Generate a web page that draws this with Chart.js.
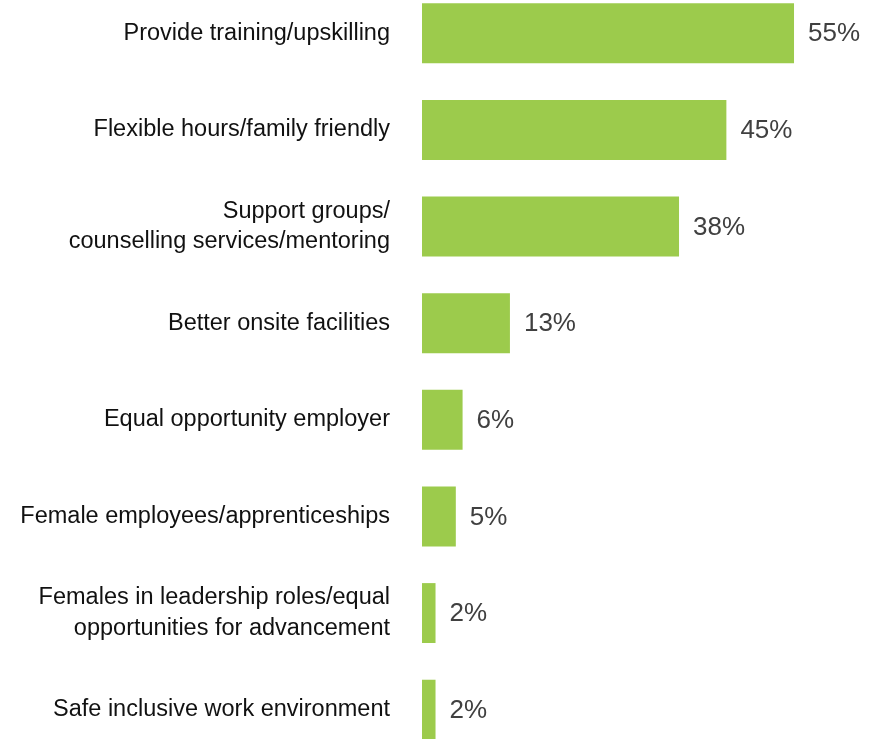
<!DOCTYPE html>
<html>
<head>
<meta charset="utf-8">
<title>Workplace initiatives</title>
<script src="https://cdn.jsdelivr.net/npm/chart.js@4.4.1/dist/chart.umd.min.js"></script>
<style>
  html, body { margin: 0; padding: 0; background: #fff; }
  #wrap { position: relative; width: 881px; height: 739px; overflow: hidden; }
  #barChart { position: absolute; left: 0; top: -15px; }
</style>
</head>
<body>
<div id="wrap">
  <canvas id="barChart" width="881" height="773"></canvas>
</div>
<script>
// ---- data ----
const categories = [
  "Provide training/upskilling",
  "Flexible hours/family friendly",
  ["Support groups/", "counselling services/mentoring"],
  "Better onsite facilities",
  "Equal opportunity employer",
  "Female employees/apprenticeships",
  ["Females in leadership roles/equal", "opportunities for advancement"],
  "Safe inclusive work environment"
];
const shares = [55, 45, 38, 13, 6, 5, 2, 2];

const FONT = "'Liberation Sans', Arial, Helvetica, sans-serif";
const BAR_GREEN = "#9ccb4c";

// value labels to the right of each bar
const valueLabels = {
  id: "valueLabels",
  afterDatasetsDraw(chart) {
    const ctx = chart.ctx;
    const meta = chart.getDatasetMeta(0);
    ctx.save();
    ctx.font = "26px " + FONT;
    ctx.fillStyle = "#404040";
    ctx.textAlign = "left";
    ctx.textBaseline = "middle";
    meta.data.forEach((bar, i) => {
      ctx.fillText(shares[i] + "%", bar.x + 14, bar.y + 1);
    });
    ctx.restore();
  }
};

new Chart(document.getElementById("barChart").getContext("2d"), {
  type: "bar",
  data: {
    labels: categories,
    datasets: [{
      data: shares,
      backgroundColor: BAR_GREEN,
      borderWidth: 0,
      barPercentage: 0.62,
      categoryPercentage: 1
    }]
  },
  options: {
    indexAxis: "y",
    responsive: false,
    animation: false,
    layout: { padding: 0 },
    plugins: {
      legend: { display: false },
      tooltip: { enabled: false }
    },
    scales: {
      x: {
        display: false,
        min: 0,
        max: 67.86
      },
      y: {
        grid: { display: false, drawTicks: false },
        border: { display: false },
        // fixed label column; no extra space above/below the bars
        afterFit: (scale) => {
          scale.width = 422;
          scale.paddingTop = 0;
          scale.paddingBottom = 0;
        },
        ticks: {
          padding: 32,
          color: "#111",
          font: { family: FONT, size: 23.5, lineHeight: 1.3 }
        }
      }
    }
  },
  plugins: [valueLabels]
});
</script>
</body>
</html>
